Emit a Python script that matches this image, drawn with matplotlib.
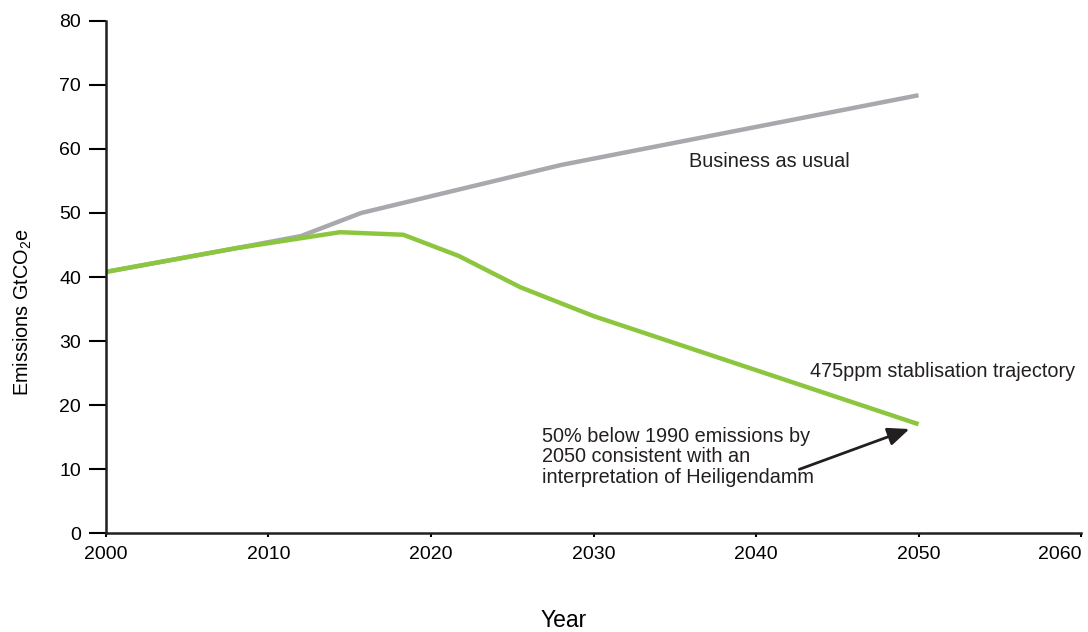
import matplotlib.pyplot as plt

plt.rcParams['font.family'] = ['Liberation Sans', 'DejaVu Sans']
plt.rcParams['mathtext.fontset'] = 'custom'
plt.rcParams['mathtext.rm'] = 'Liberation Sans'

# business as usual
bau_years = [2000, 2008, 2012, 2015.7, 2028, 2050]
bau_values = [40.8, 44.5, 46.4, 50.0, 57.5, 68.4]

# 475ppm stabilisation trajectory
stab_years = [2000, 2008, 2014.4, 2018.3, 2021.7, 2025.5, 2030, 2050]
stab_values = [40.8, 44.5, 47.0, 46.6, 43.3, 38.4, 33.9, 17.0]

x_ticks = [2000, 2010, 2020, 2030, 2040, 2050, 2060]
y_ticks = [0, 10, 20, 30, 40, 50, 60, 70, 80]

fig = plt.figure(figsize=(10.88, 6.32), dpi=100)
ax = fig.add_axes([0.0974, 0.1566, 0.8962, 0.8102])

ax.plot(bau_years, bau_values, color='#a7a9ac', linewidth=3.2, solid_capstyle='butt')
ax.plot(stab_years, stab_values, color='#8cc63f', linewidth=3.2, solid_capstyle='butt')

ax.set_xlim(2000, 2060)
ax.set_ylim(0, 80)
ax.set_xticks(x_ticks)
ax.set_yticks(y_ticks)
ax.tick_params(axis='y', direction='out', length=12, width=1.5, labelsize=14, pad=6)
ax.tick_params(axis='x', direction='out', length=3, width=1.5, labelsize=14, pad=6)
# last tick label kept inside the figure
ax.get_xticklabels()[-1].set_horizontalalignment('right')

for s in ['top', 'right']:
    ax.spines[s].set_visible(False)
for s in ['left', 'bottom']:
    ax.spines[s].set_linewidth(1.8)
    ax.spines[s].set_color('#231f20')

ax.set_xlabel('Year', fontsize=16.5)
ax.xaxis.set_label_coords(0.469, -0.148)
ax.set_ylabel(r'Emissions GtCO$_2$e', fontsize=14.3, va='center')
ax.yaxis.set_label_coords(-0.085, 0.432)

ax.text(2035.9, 58.1, 'Business as usual', fontsize=14.3, color='#231f20', va='center')
ax.text(2043.3, 25.3, '475ppm stablisation trajectory', fontsize=14.3, color='#231f20', va='center')
ax.text(2026.8, 11.9, '50% below 1990 emissions by\n2050 consistent with an\ninterpretation of Heiligendamm',
        fontsize=14.3, color='#231f20', linespacing=1.1, va='center')
ax.annotate('', xy=(2049.6, 16.4), xytext=(2042.5, 9.8),
            arrowprops=dict(arrowstyle='-|>,head_length=1.3,head_width=0.55',
                            color='#231f20', lw=2))

fig.savefig('out.png', dpi=100)
